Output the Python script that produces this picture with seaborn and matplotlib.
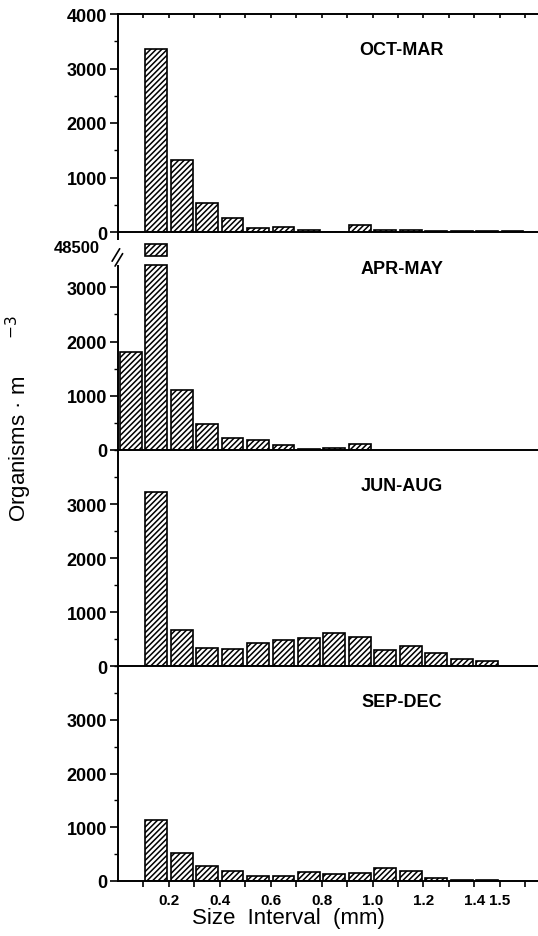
import numpy as np
import pandas as pd
import matplotlib
matplotlib.use("Agg")
import matplotlib.pyplot as plt
import matplotlib.transforms as mtransforms
from matplotlib.ticker import FixedLocator, MultipleLocator
import seaborn as sns

# ---------------- data ----------------
panel_names = ["OCT-MAR", "APR-MAY", "JUN-AUG", "SEP-DEC"]

oct_mar_sizes = [0.15, 0.25, 0.35, 0.45, 0.55, 0.65, 0.75, 0.85, 0.95, 1.05, 1.15, 1.25, 1.35, 1.45, 1.55]
oct_mar_vals = [3350, 1315, 530, 253, 80, 100, 40, 0, 123, 45, 45, 15, 15, 10, 10]

apr_may_sizes = [0.05, 0.15, 0.25, 0.35, 0.45, 0.55, 0.65, 0.75, 0.85, 0.95]
apr_may_vals = [1800, 48500, 1098, 482, 226, 177, 91, 20, 30, 116]

jun_aug_sizes = [0.15, 0.25, 0.35, 0.45, 0.55, 0.65, 0.75, 0.85, 0.95, 1.05, 1.15, 1.25, 1.35, 1.45]
jun_aug_vals = [3228, 662, 340, 322, 420, 482, 520, 618, 538, 303, 377, 247, 130, 99]

sep_dec_sizes = [0.15, 0.25, 0.35, 0.45, 0.55, 0.65, 0.75, 0.85, 0.95, 1.05, 1.15, 1.25, 1.35, 1.45]
sep_dec_vals = [1144, 513, 278, 186, 99, 93, 160, 136, 148, 235, 192, 62, 10, 10]

y_major_ticks = [0, 1000, 2000, 3000]
x_tick_positions = [0.1, 0.2, 0.3, 0.4, 0.5, 0.6, 0.7, 0.8, 0.9, 1.0, 1.1, 1.2, 1.3, 1.4, 1.5, 1.6]
x_tick_labels = ["", "0.2", "", "0.4", "", "0.6", "", "0.8", "", "1.0", "", "1.2", "", "1.4", "1.5", ""]

panel_sizes = [oct_mar_sizes, apr_may_sizes, jun_aug_sizes, sep_dec_sizes]
panel_vals = [oct_mar_vals, apr_may_vals, jun_aug_vals, sep_dec_vals]

# ---------------- style ----------------
sns.set_style("ticks")
plt.rcParams["font.family"] = ["Liberation Sans", "DejaVu Sans"]
plt.rcParams.update({
    "hatch.linewidth": 1.1,
    "axes.linewidth": 1.4,
    "axes.edgecolor": "black",
    "xtick.color": "black",
    "ytick.color": "black",
    "text.color": "black",
    "axes.labelcolor": "black",
    "axes.facecolor": "none",
})

W, H = 538, 937
fig = plt.figure(figsize=(W / 100, H / 100), dpi=100)
fig.patch.set_facecolor("white")

left = 118 / W
width = 1 - left
tops_px = [15, 234, 451, 667]
bots_px = [233, 451, 667, 882]

BREAK_LO = 3410      # top of the lower part of the broken bar
BREAK_HI = 3570      # bottom of the stub above the break
STUB_TOP = 3800
YMAX = 4000
BAR_W = 0.86
HATCH = "//////"

for i in range(4):
    t, b = tops_px[i], bots_px[i]
    ax = fig.add_axes([left, 1 - b / H, width, (b - t) / H])
    ax.set_facecolor("none")
    sizes = np.round(np.array(panel_sizes[i]), 2)
    vals = np.array(panel_vals[i], dtype=float)
    plot_vals = np.minimum(vals, BREAK_LO) if i == 1 else vals
    df = pd.DataFrame({"size": sizes, "count": plot_vals})
    sns.barplot(data=df, x="size", y="count", native_scale=True, width=BAR_W,
                color="white", edgecolor="black", linewidth=1.2, hatch=HATCH,
                errorbar=None, ax=ax, zorder=2)
    ax.set_xlim(0, 1.65)
    ax.set_ylim(0, YMAX)
    ax.set_xlabel("")
    ax.set_ylabel("")

    # spines
    ax.spines["right"].set_visible(False)
    if i != 0:
        ax.spines["top"].set_visible(False)
    for s in ("left", "bottom", "top"):
        ax.spines[s].set_linewidth(1.4)
        ax.spines[s].set_zorder(3)

    # y ticks
    majors = y_major_ticks + ([YMAX] if i == 0 else [])
    ax.yaxis.set_major_locator(FixedLocator(majors))
    if i == 1:
        ax.yaxis.set_minor_locator(FixedLocator([500, 1500, 2500]))
    else:
        ax.yaxis.set_minor_locator(MultipleLocator(500))
    ax.tick_params(axis="y", which="major", direction="out", length=6, width=1.2,
                   labelsize=13, pad=2)
    ax.tick_params(axis="y", which="minor", direction="out", length=3, width=1.0)
    ax.set_yticklabels([str(v) for v in majors])
    for lbl in ax.get_yticklabels():
        lbl.set_fontweight("bold")

    # x ticks
    ax.set_xticks(x_tick_positions)
    ax.xaxis.set_minor_locator(FixedLocator([]))
    if i == 3:
        ax.set_xticklabels(x_tick_labels)
        ax.tick_params(axis="x", which="major", direction="out", length=4, width=1.2,
                       labelsize=11, pad=5)
        for lbl in ax.get_xticklabels():
            lbl.set_fontweight("bold")
    elif i == 0:
        ax.tick_params(axis="x", which="major", top=True, bottom=False, labelbottom=False,
                       direction="in", length=3, width=1.2)
    else:
        ax.tick_params(axis="x", which="major", bottom=False, labelbottom=False)

    ax.text(0.676, 0.835, panel_names[i], transform=ax.transAxes, ha="center",
            va="center", fontsize=13, fontweight="bold")

    if i == 1:
        k = int(np.argmax(vals))
        trans = mtransforms.blended_transform_factory(ax.transAxes, ax.transData)
        # stub of the broken bar
        ax.bar(sizes[k], STUB_TOP - BREAK_HI, bottom=BREAK_HI, width=BAR_W * 0.1,
               color="white", edgecolor="black", linewidth=1.2, hatch=HATCH, zorder=2)
        # broken axis
        ax.spines["left"].set_bounds(0, 3400)
        ax.plot([0, 0], [3880, YMAX], transform=trans, color="black", lw=1.4,
                clip_on=False, solid_capstyle="butt")
        for dx, y0 in ((-0.014, 3480), (-0.007, 3390)):
            ax.plot([dx, dx + 0.018], [y0, y0 + 230], transform=trans, color="black",
                    lw=1.2, clip_on=False)
        ax.text(-0.043, 3740, f"{int(vals[k])}", transform=trans, ha="right",
                va="center", fontsize=12, fontweight="bold")

fig.text(0.537, 0.02, "Size  Interval  (mm)", ha="center", va="center",
         fontsize=16)
fig.text(0.035, 0.553, "Organisms · m      $^{-3}$", rotation=90, ha="center",
         va="center", fontsize=16)

fig.savefig("out.png", dpi=100, facecolor="white")
